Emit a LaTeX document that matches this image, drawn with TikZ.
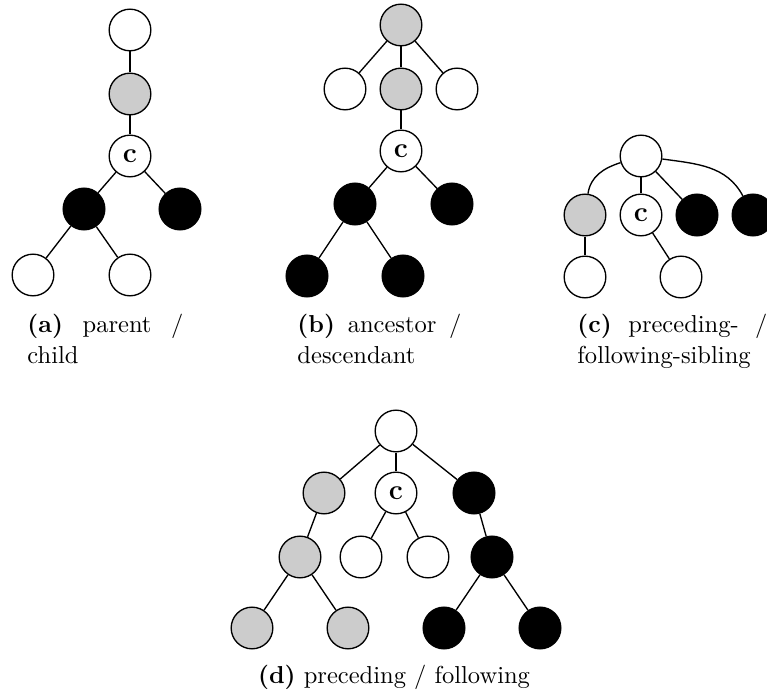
\documentclass[tikz,border=0pt]{standalone}
\begin{document}
\begin{tikzpicture}[x=0.408pt,y=-0.408pt,
  nd/.style={circle,draw,line width=0.55pt,minimum size=17pt,inner sep=0pt},
  wn/.style={nd,fill=white},
  gn/.style={nd,fill=black!20},
  bn/.style={nd,fill=black},
  cn/.style={nd,fill=white,font=\fontsize{11.5}{13}\selectfont\bfseries},
  ln/.style={line width=0.55pt},
  captxt/.style={anchor=base west,inner sep=0pt,font=\fontsize{10}{12.25}\selectfont}]
\useasboundingbox (0,0) rectangle (767,695);

% (a)
\node[wn] (a1) at (130,30) {};
\node[gn] (a2) at (130,94) {};
\node[cn] (ac) at (130,156) {c};
\node[bn] (a3) at (84,209) {};
\node[bn] (a4) at (180,209) {};
\node[wn] (a5) at (33,275) {};
\node[wn] (a6) at (130,275) {};
\draw[ln] (a1) -- (a2);
\draw[ln] (a2) -- (ac);
\draw[ln] (ac) -- (a3);
\draw[ln] (ac) -- (a4);
\draw[ln] (a3) -- (a5);
\draw[ln] (a3) -- (a6);

% (b)
\node[gn] (b1) at (401,25) {};
\node[wn] (b2) at (345,89) {};
\node[gn] (b3) at (401,89) {};
\node[wn] (b4) at (457,89) {};
\node[cn] (bc) at (401,151) {c};
\node[bn] (b5) at (355,204) {};
\node[bn] (b6) at (452,204) {};
\node[bn] (b7) at (307,276) {};
\node[bn] (b8) at (403,276) {};
\draw[ln] (b1) -- (b2);
\draw[ln] (b1) -- (b3);
\draw[ln] (b1) -- (b4);
\draw[ln] (b3) -- (bc);
\draw[ln] (bc) -- (b5);
\draw[ln] (bc) -- (b6);
\draw[ln] (b5) -- (b7);
\draw[ln] (b5) -- (b8);

% (c)
\node[wn] (c1) at (641,156) {};
\node[gn] (c2) at (585,215) {};
\node[cn] (cc) at (641,215) {c};
\node[bn] (c3) at (697,215) {};
\node[bn] (c4) at (753,215) {};
\node[wn] (c5) at (585,277) {};
\node[wn] (c6) at (681,277) {};
\draw[ln] (c1) to[out=198,in=82] (c2);
\draw[ln] (c1) -- (cc);
\draw[ln] (c1) -- (c3);
\draw[ln] (c1) to[out=-8,in=118] (c4);
\draw[ln] (c2) -- (c5);
\draw[ln] (cc) -- (c6);

% (d)
\node[wn] (d1) at (396,431) {};
\node[gn] (d2) at (324,493) {};
\node[cn] (dc) at (396,493) {c};
\node[bn] (d3) at (474,493) {};
\node[gn] (d4) at (300,557) {};
\node[wn] (d5) at (361,557) {};
\node[wn] (d6) at (428,557) {};
\node[bn] (d7) at (492,557) {};
\node[gn] (d8) at (252,628) {};
\node[gn] (d9) at (348,628) {};
\node[bn] (d10) at (444,628) {};
\node[bn] (d11) at (540,628) {};
\draw[ln] (d1) -- (d2);
\draw[ln] (d1) -- (dc);
\draw[ln] (d1) -- (d3);
\draw[ln] (d2) -- (d4);
\draw[ln] (dc) -- (d5);
\draw[ln] (dc) -- (d6);
\draw[ln] (d3) -- (d7);
\draw[ln] (d4) -- (d8);
\draw[ln] (d4) -- (d9);
\draw[ln] (d7) -- (d10);
\draw[ln] (d7) -- (d11);

% captions
\node[captxt] (capa) at (27,333) {\parbox[t]{63.6pt}{\textbf{(a)}\hfill parent\hfill /\\child}};
\node[captxt] (capb) at (297,333) {\parbox[t]{66.9pt}{\textbf{(b)}\hfill ancestor\hfill /\\descendant}};
\node[captxt] (capc) at (577,333) {\parbox[t]{77.5pt}{\textbf{(c)}\hfill preceding-\hfill /\\following-sibling}};
\node[captxt,anchor=base] (capd) at (394,684) {\textbf{(d)} preceding / following};
\end{tikzpicture}
\end{document}
